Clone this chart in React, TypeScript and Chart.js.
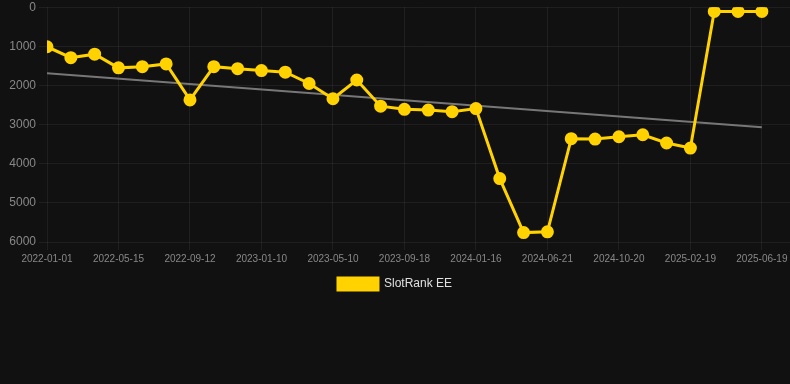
import React, { useEffect, useRef } from "react";
import { Chart, registerables } from "chart.js";

Chart.register(...registerables);

const dateLabels: string[] = [
  "2022-01-01", "2022-02-14", "2022-03-30", "2022-05-15", "2022-06-24", "2022-08-03",
  "2022-09-12", "2022-10-22", "2022-12-01", "2023-01-10", "2023-02-19", "2023-03-31",
  "2023-05-10", "2023-06-23", "2023-08-05", "2023-09-18", "2023-10-28", "2023-12-07",
  "2024-01-16", "2024-03-07", "2024-04-29", "2024-06-21", "2024-07-31", "2024-09-09",
  "2024-10-20", "2024-11-29", "2025-01-09", "2025-02-19", "2025-03-31", "2025-05-10",
  "2025-06-19",
];

const rankValues: number[] = [
  1010, 1290, 1200, 1550, 1520, 1450, 2370, 1520, 1570, 1620, 1660, 1950,
  2340, 1860, 2530, 2610, 2630, 2670, 2590, 4380, 5760, 5740, 3360, 3370,
  3310, 3260, 3470, 3600, 110, 110, 110,
];

// trend line endpoints (first and last category)
const trendStart = 1690;
const trendEnd = 3070;

const tickStep = 3;
const yMax = 6000;
const yStep = 1000;

export default function App() {
  const ref = useRef<HTMLCanvasElement | null>(null);

  useEffect(() => {
    document.body.style.margin = "0";
    document.body.style.background = "#111111";
    const canvas = ref.current;
    if (!canvas) return;
    const last = dateLabels.length - 1;
    const mainData = rankValues.map((v, i) => ({ x: i, y: v }));
    const trendData = [
      { x: 0, y: trendStart },
      { x: last, y: trendEnd },
    ];
    const chart = new Chart(canvas, {
      type: "line",
      data: {
        datasets: [
          {
            label: "SlotRank EE",
            data: mainData,
            borderColor: "#FFD200",
            backgroundColor: "#FFD200",
            borderWidth: 3,
            pointRadius: 5,
            pointHoverRadius: 5,
            pointBackgroundColor: "#FFD200",
            pointBorderColor: "#FFD200",
            tension: 0,
            order: 1,
          },
          {
            label: "trend",
            data: trendData,
            borderColor: "#777777",
            backgroundColor: "#777777",
            borderWidth: 2,
            pointRadius: 0,
            tension: 0,
            order: 2,
          },
        ],
      },
      options: {
        animation: false,
        responsive: false,
        maintainAspectRatio: false,
        layout: { autoPadding: false, padding: 0 },
        plugins: {
          legend: {
            position: "bottom",
            labels: {
              color: "#e0e0e0",
              font: { family: "'Liberation Sans', Arial, sans-serif", size: 12 },
              boxWidth: 40,
              boxHeight: 12,
              filter: (item) => item.text !== "trend",
            },
          },
          tooltip: { enabled: false },
        },
        scales: {
          x: {
            type: "linear",
            min: 0,
            max: 31.18,
            grid: { color: "rgba(255,255,255,0.06)", tickLength: 8 },
            border: { display: false },
            afterBuildTicks: (scale: any) => {
              scale.ticks = dateLabels
                .map((_, i) => i)
                .filter((i) => i % tickStep === 0)
                .map((i) => ({ value: i }));
            },
            afterFit: (scale: any) => {
              scale.paddingRight = 0;
              scale.paddingLeft = 0;
            },
            ticks: {
              color: "#888888",
              font: { family: "'Liberation Sans', Arial, sans-serif", size: 10 },
              maxRotation: 0,
              autoSkip: false,
              padding: 3,
              callback: (v: any) => dateLabels[Number(v)] ?? "",
            },
          },
          y: {
            reverse: true,
            min: 0,
            max: yMax,
            grid: { color: "rgba(255,255,255,0.06)", tickLength: 8 },
            border: { display: false },
            afterFit: (scale: any) => {
              scale.width = 47;
            },
            ticks: {
              stepSize: yStep,
              color: "#888888",
              font: { family: "'Liberation Sans', Arial, sans-serif", size: 12 },
              padding: 3,
              callback: (v: any) => String(v),
            },
          },
        },
      },
    });
    return () => chart.destroy();
  }, []);

  return (
    <div style={{ width: 790, height: 384, background: "#111111", overflow: "hidden" }}>
      <canvas
        ref={ref}
        width={790}
        height={303}
        style={{ display: "block", marginTop: -3 }}
      />
    </div>
  );
}
